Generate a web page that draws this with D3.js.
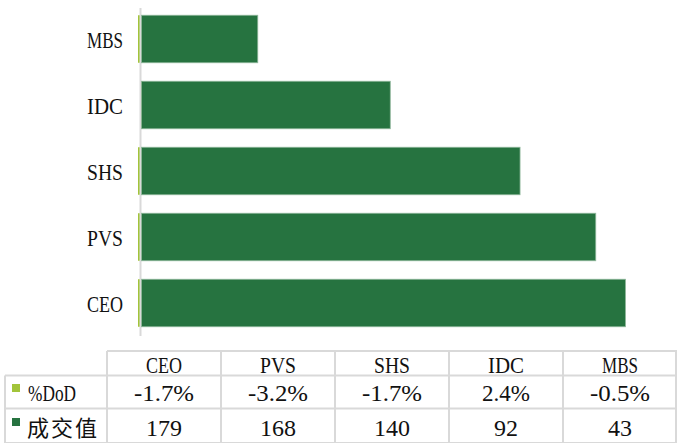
<!DOCTYPE html>
<html>
<head>
<meta charset="utf-8">
<script src="https://cdn.jsdelivr.net/npm/d3@7"></script>
<style>
  body { margin: 0; background: #fff; }
  svg { display: block; }
</style>
</head>
<body>
<div id="chart"></div>
<script>
// data, in table order
let categories = ["CEO", "PVS", "SHS", "IDC", "MBS"]
let turnover = [179, 168, 140, 92, 43]          // 成交值
let dod = [-0.017, -0.032, -0.017, 0.024, -0.005] // %DoD
let dodLabels = ["-1.7%", "-3.2%", "-1.7%", "2.4%", "-0.5%"]
let seriesNames = ["%DoD", "成交值"]

let W = 677, H = 443
let dark = "#267340", light = "#a2c43a", grid = "#d9d9d9"
let latin = "'Liberation Serif', serif"
let cjk = "'Noto Sans CJK SC', sans-serif"
let charW = 12 // half-width latin glyphs, like the original font

const svg = d3.select("#chart").append("svg").attr("width", W).attr("height", H)

// narrow latin text: every char gets the same width
function latinText(sel) {
  sel.style("font-family", latin).style("font-size", "24px").style("fill", "#111")
    .attr("textLength", d => String(d).length * charW)
    .attr("lengthAdjust", "spacingAndGlyphs")
    .text(d => d)
}

// bars: top to bottom is reverse of the table
const y = d3.scaleBand().domain(categories.slice().reverse()).range([6, 336])
  .paddingInner(0.28).paddingOuter(0.14)
const x = d3.scaleLinear().domain([0, 179]).range([141, 625])

let rows = categories.map((c, i) => ({ cat: c, val: turnover[i], dod: dod[i] }))

// %DoD bars (tiny, min 2px so they show like the original)
svg.append("g").selectAll("rect").data(rows).join("rect")
  .attr("x", d => d.dod < 0 ? Math.min(x(d.dod), x(0) - 3) : x(0))
  .attr("width", d => Math.max(Math.abs(x(d.dod) - x(0)), 2))
  .attr("y", d => y(d.cat))
  .attr("height", y.bandwidth())
  .attr("fill", light)

svg.append("line")
  .attr("x1", 140.5).attr("x2", 140.5).attr("y1", 8).attr("y2", 336)
  .attr("stroke", grid).attr("stroke-width", 2)

svg.append("g").selectAll("rect").data(rows).join("rect")
  .attr("x", x(0) + 0.5)
  .attr("width", d => x(d.val) - x(0))
  .attr("y", d => y(d.cat))
  .attr("height", y.bandwidth())
  .attr("fill", dark)
  .attr("stroke", "#8fb79b").attr("stroke-width", 0.8)

// category labels
svg.append("g").selectAll("text").data(categories).join("text")
  .attr("x", 123)
  .attr("y", d => y(d) + y.bandwidth() / 2 + 1)
  .attr("dy", "0.35em")
  .attr("text-anchor", "end")
  .call(latinText)

// data table
const col = d3.scaleBand().domain(categories).range([107, 677])
let rowLines = [351, 375.5, 408.5, 443]
let t = svg.append("g")
t.append("line").attr("x1", 107).attr("x2", 677).attr("y1", rowLines[0]).attr("y2", rowLines[0])
  .attr("stroke", grid).attr("stroke-width", 2)
rowLines.slice(1).forEach(yy => {
  t.append("line").attr("x1", 5).attr("x2", 677).attr("y1", yy).attr("y2", yy)
    .attr("stroke", grid).attr("stroke-width", 2)
})
t.append("line").attr("x1", 5).attr("x2", 5).attr("y1", rowLines[1]).attr("y2", H)
  .attr("stroke", grid).attr("stroke-width", 2)
categories.forEach(c => {
  t.append("line").attr("x1", col(c)).attr("x2", col(c)).attr("y1", rowLines[0]).attr("y2", H)
    .attr("stroke", grid).attr("stroke-width", 2)
})
t.append("line").attr("x1", 676).attr("x2", 676).attr("y1", rowLines[0]).attr("y2", H)
  .attr("stroke", grid).attr("stroke-width", 2)

let cellText = (vals, cy) => t.append("g").selectAll("text").data(vals).join("text")
  .attr("x", (d, i) => col(categories[i]) + col.bandwidth() / 2)
  .attr("y", cy).attr("dy", "0.35em").attr("text-anchor", "middle")
  .call(latinText)

cellText(categories, 365)
cellText(dodLabels, 393)
cellText(turnover, 428)

// legend keys in the row headers
t.append("rect").attr("x", 12).attr("y", 384).attr("width", 8).attr("height", 8).attr("fill", light)
t.append("rect").attr("x", 12).attr("y", 418).attr("width", 8).attr("height", 8).attr("fill", dark)
t.append("text").datum(seriesNames[0]).attr("x", 28).attr("y", 393).attr("dy", "0.35em")
  .call(latinText)
t.append("text").attr("x", 27).attr("y", 428).attr("dy", "0.35em")
  .style("font-family", cjk).style("font-size", "22px").style("letter-spacing", "2px").style("fill", "#111")
  .text(seriesNames[1])
</script>
</body>
</html>
